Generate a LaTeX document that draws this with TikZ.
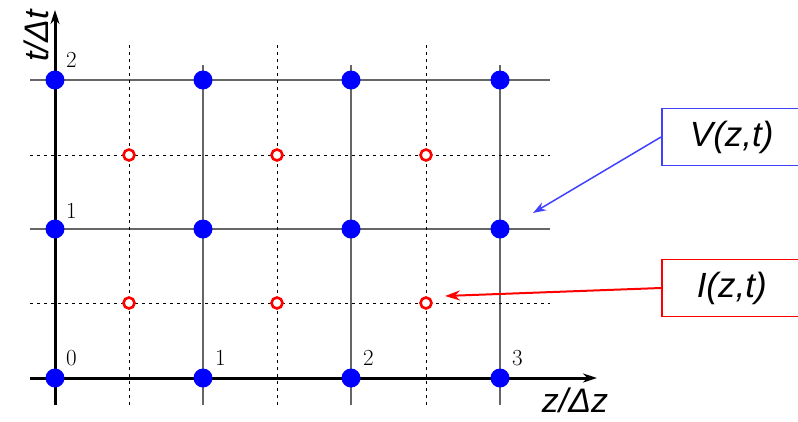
\documentclass[tikz,border=0pt]{standalone}
\usepackage{fontspec}
\newfontfamily\arialfont{Liberation Sans}
\usetikzlibrary{arrows.meta}
\begin{document}
\begin{tikzpicture}[x=1pt,y=-1pt,
  gridline/.style={draw=gray!80!black,line width=1.2pt},
  dashline/.style={draw=black,line width=0.9pt,dash pattern=on 3pt off 4pt},
  axisline/.style={draw=black,line width=3pt,-{Stealth[length=14pt,width=9pt]}},
  vdot/.style={circle,fill=blue,inner sep=0pt,minimum size=19pt},
  idot/.style={circle,draw=red,line width=2.6pt,fill=white,inner sep=0pt,minimum size=11pt},
  tick/.style={font=\fontsize{23}{23}\selectfont,anchor=south west,inner sep=0pt},
  axlabel/.style={font=\arialfont\itshape\fontsize{34}{34}\selectfont,inner sep=0pt},
  boxlabel/.style={font=\arialfont\itshape\fontsize{35}{35}\selectfont,draw,line width=1.5pt,inner sep=0pt,minimum width=140pt,minimum height=57pt,anchor=west}]
\useasboundingbox (0,0) rectangle (798,421);
% grid lines
\foreach \y in {80,229} \draw[gridline] (30,\y) -- (550,\y);
\foreach \x in {203,351,500} \draw[gridline] (\x,65) -- (\x,405);
\foreach \y in {155,303} \draw[dashline] (30,\y) -- (550,\y);
\foreach \x in {129,277,426} \draw[dashline] (\x,45) -- (\x,405);
% axes
\draw[axisline] (30,378) -- (597,378);
\draw[axisline] (55,405) -- (55,10);
% dots
\foreach \i/\x in {0/55,1/203,2/351,3/500}
  \foreach \j/\y in {0/378,1/229,2/80}
    \node[vdot] (v\i\j) at (\x,\y) {};
\foreach \i/\x in {0/129,1/277,2/426}
  \foreach \j/\y in {0/303,1/155}
    \node[idot] (c\i\j) at (\x,\y) {};
% tick labels
\node[tick] (t2) at (66,68) {2};
\node[tick] (t1) at (66,219) {1};
\node[tick] (z0) at (66,366) {0};
\node[tick] (z1) at (215,366) {1};
\node[tick] (z2) at (363,366) {2};
\node[tick] (z3) at (512,366) {3};
% axis labels
\node[axlabel,rotate=90] (tlab) at (36,36) {t/Δt};
\node[axlabel] (zlab) at (575,400) {z/Δz};
% boxes
\node[boxlabel,draw=blue!75!white] (vbox) at (661,137) {V(z,t)};
\node[boxlabel,draw=red] (ibox) at (661,288) {I(z,t)};
\coordinate (vtip) at (533,213);
\coordinate (itip) at (445,296);
\draw[blue!75!white,line width=1.5pt,-{Stealth[length=13pt,width=9pt]}] (vbox.west) -- (vtip);
\draw[red,line width=2pt,-{Stealth[length=15pt,width=10pt]}] (ibox.west) -- (itip);
\end{tikzpicture}
\end{document}
